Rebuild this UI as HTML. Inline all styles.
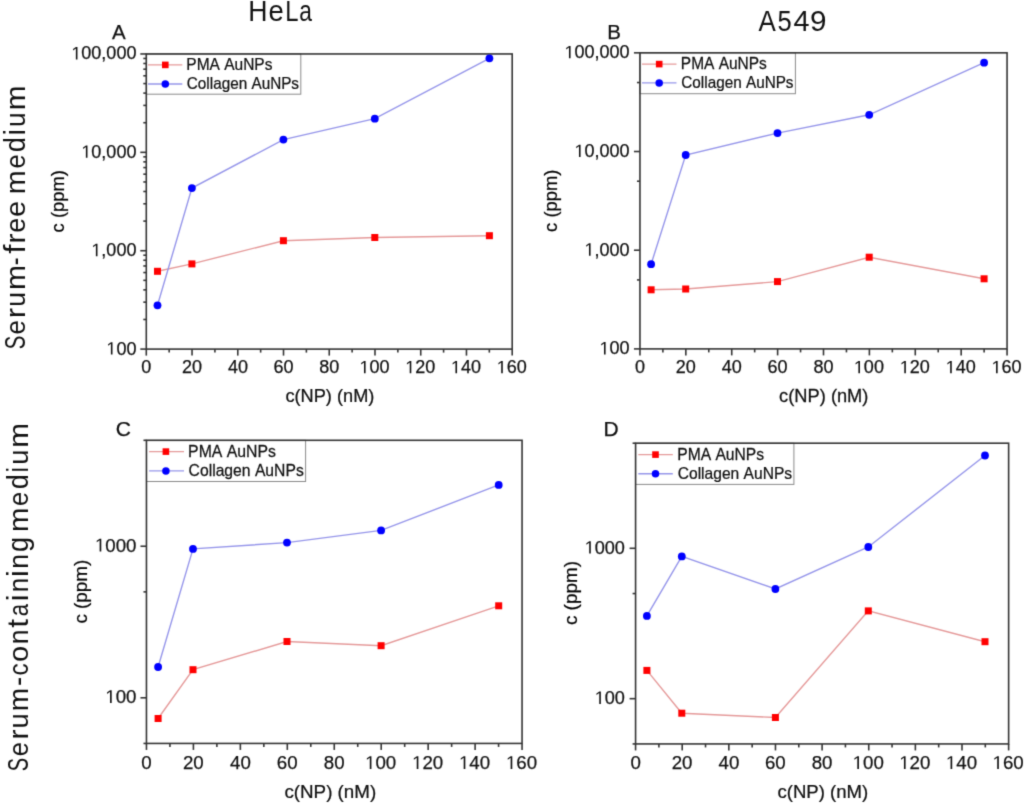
<!DOCTYPE html>
<html><head><meta charset="utf-8"><style>
html,body{margin:0;padding:0;background:#fff;}
svg{display:block;}
#w{will-change:transform;}
text{font-family:"Liberation Sans", sans-serif;font-kerning:none;stroke:#111;stroke-width:0.25px;}
text.big{stroke-width:0;}
</style></head><body><div id="w">
<svg width="1024" height="804" viewBox="0 0 1024 804">
<defs><filter id="bl" x="0" y="0" width="1024" height="804" filterUnits="userSpaceOnUse" color-interpolation-filters="sRGB"><feConvolveMatrix order="3" kernelMatrix="0.01917 0.10012 0.01917 0.10012 0.52283 0.10012 0.01917 0.10012 0.01917" edgeMode="duplicate"/></filter></defs><g filter="url(#bl)"><rect width="1024" height="804" fill="#fff"/>
<polyline points="157.50,271.30 191.90,263.90 283.40,240.70 374.80,237.50 489.40,235.70" fill="none" stroke="#e59a9a" stroke-width="1.4"/>
<polyline points="157.50,305.30 191.90,188.10 283.40,139.60 374.80,118.70 489.40,58.30" fill="none" stroke="#9696ea" stroke-width="1.4"/>
<rect x="146.30" y="53.96" width="154.50" height="40.24" fill="#fff" stroke="#8a8a8a" stroke-width="1"/>
<rect x="146.30" y="53.96" width="365.90" height="295.14" fill="none" stroke="#353535" stroke-width="1.6"/>
<line x1="146.30" y1="349.10" x2="146.30" y2="355.60" stroke="#353535" stroke-width="1.6"/>
<line x1="169.17" y1="349.10" x2="169.17" y2="352.60" stroke="#353535" stroke-width="1.6"/>
<line x1="192.04" y1="349.10" x2="192.04" y2="355.60" stroke="#353535" stroke-width="1.6"/>
<line x1="214.91" y1="349.10" x2="214.91" y2="352.60" stroke="#353535" stroke-width="1.6"/>
<line x1="237.78" y1="349.10" x2="237.78" y2="355.60" stroke="#353535" stroke-width="1.6"/>
<line x1="260.64" y1="349.10" x2="260.64" y2="352.60" stroke="#353535" stroke-width="1.6"/>
<line x1="283.51" y1="349.10" x2="283.51" y2="355.60" stroke="#353535" stroke-width="1.6"/>
<line x1="306.38" y1="349.10" x2="306.38" y2="352.60" stroke="#353535" stroke-width="1.6"/>
<line x1="329.25" y1="349.10" x2="329.25" y2="355.60" stroke="#353535" stroke-width="1.6"/>
<line x1="352.12" y1="349.10" x2="352.12" y2="352.60" stroke="#353535" stroke-width="1.6"/>
<line x1="374.99" y1="349.10" x2="374.99" y2="355.60" stroke="#353535" stroke-width="1.6"/>
<line x1="397.86" y1="349.10" x2="397.86" y2="352.60" stroke="#353535" stroke-width="1.6"/>
<line x1="420.73" y1="349.10" x2="420.73" y2="355.60" stroke="#353535" stroke-width="1.6"/>
<line x1="443.59" y1="349.10" x2="443.59" y2="352.60" stroke="#353535" stroke-width="1.6"/>
<line x1="466.46" y1="349.10" x2="466.46" y2="355.60" stroke="#353535" stroke-width="1.6"/>
<line x1="489.33" y1="349.10" x2="489.33" y2="352.60" stroke="#353535" stroke-width="1.6"/>
<line x1="512.20" y1="349.10" x2="512.20" y2="355.60" stroke="#353535" stroke-width="1.6"/>
<text transform="translate(141.29,373.30)" font-size="18" fill="#111">0</text>
<text transform="translate(181.93,373.30)" font-size="18" fill="#111">20</text>
<text transform="translate(227.91,373.30)" font-size="18" fill="#111">40</text>
<text transform="translate(273.40,373.30)" font-size="18" fill="#111">60</text>
<text transform="translate(319.20,373.30)" font-size="18" fill="#111">80</text>
<g transform="translate(359.46,373.30)" fill="#111"><text font-size="18"> 00</text><path transform="translate(0.000,0) scale(0.008789,-0.008789)" d="M515 0L515 1237L197 1010L197 1180L530 1409L696 1409L696 0Z"/></g>
<g transform="translate(405.19,373.30)" fill="#111"><text font-size="18"> 20</text><path transform="translate(0.000,0) scale(0.008789,-0.008789)" d="M515 0L515 1237L197 1010L197 1180L530 1409L696 1409L696 0Z"/></g>
<g transform="translate(450.93,373.30)" fill="#111"><text font-size="18"> 40</text><path transform="translate(0.000,0) scale(0.008789,-0.008789)" d="M515 0L515 1237L197 1010L197 1180L530 1409L696 1409L696 0Z"/></g>
<g transform="translate(496.67,373.30)" fill="#111"><text font-size="18"> 60</text><path transform="translate(0.000,0) scale(0.008789,-0.008789)" d="M515 0L515 1237L197 1010L197 1180L530 1409L696 1409L696 0Z"/></g>
<line x1="140.30" y1="349.10" x2="146.30" y2="349.10" stroke="#353535" stroke-width="1.6"/>
<line x1="140.30" y1="250.72" x2="146.30" y2="250.72" stroke="#353535" stroke-width="1.6"/>
<line x1="140.30" y1="152.34" x2="146.30" y2="152.34" stroke="#353535" stroke-width="1.6"/>
<line x1="140.30" y1="53.96" x2="146.30" y2="53.96" stroke="#353535" stroke-width="1.6"/>
<line x1="143.30" y1="319.48" x2="146.30" y2="319.48" stroke="#353535" stroke-width="1.6"/>
<line x1="143.30" y1="302.16" x2="146.30" y2="302.16" stroke="#353535" stroke-width="1.6"/>
<line x1="143.30" y1="289.87" x2="146.30" y2="289.87" stroke="#353535" stroke-width="1.6"/>
<line x1="143.30" y1="280.34" x2="146.30" y2="280.34" stroke="#353535" stroke-width="1.6"/>
<line x1="143.30" y1="272.55" x2="146.30" y2="272.55" stroke="#353535" stroke-width="1.6"/>
<line x1="143.30" y1="265.96" x2="146.30" y2="265.96" stroke="#353535" stroke-width="1.6"/>
<line x1="143.30" y1="260.25" x2="146.30" y2="260.25" stroke="#353535" stroke-width="1.6"/>
<line x1="143.30" y1="255.22" x2="146.30" y2="255.22" stroke="#353535" stroke-width="1.6"/>
<line x1="143.30" y1="221.10" x2="146.30" y2="221.10" stroke="#353535" stroke-width="1.6"/>
<line x1="143.30" y1="203.78" x2="146.30" y2="203.78" stroke="#353535" stroke-width="1.6"/>
<line x1="143.30" y1="191.49" x2="146.30" y2="191.49" stroke="#353535" stroke-width="1.6"/>
<line x1="143.30" y1="181.96" x2="146.30" y2="181.96" stroke="#353535" stroke-width="1.6"/>
<line x1="143.30" y1="174.17" x2="146.30" y2="174.17" stroke="#353535" stroke-width="1.6"/>
<line x1="143.30" y1="167.58" x2="146.30" y2="167.58" stroke="#353535" stroke-width="1.6"/>
<line x1="143.30" y1="161.87" x2="146.30" y2="161.87" stroke="#353535" stroke-width="1.6"/>
<line x1="143.30" y1="156.84" x2="146.30" y2="156.84" stroke="#353535" stroke-width="1.6"/>
<line x1="143.30" y1="122.72" x2="146.30" y2="122.72" stroke="#353535" stroke-width="1.6"/>
<line x1="143.30" y1="105.40" x2="146.30" y2="105.40" stroke="#353535" stroke-width="1.6"/>
<line x1="143.30" y1="93.11" x2="146.30" y2="93.11" stroke="#353535" stroke-width="1.6"/>
<line x1="143.30" y1="83.58" x2="146.30" y2="83.58" stroke="#353535" stroke-width="1.6"/>
<line x1="143.30" y1="75.79" x2="146.30" y2="75.79" stroke="#353535" stroke-width="1.6"/>
<line x1="143.30" y1="69.20" x2="146.30" y2="69.20" stroke="#353535" stroke-width="1.6"/>
<line x1="143.30" y1="63.49" x2="146.30" y2="63.49" stroke="#353535" stroke-width="1.6"/>
<line x1="143.30" y1="58.46" x2="146.30" y2="58.46" stroke="#353535" stroke-width="1.6"/>
<g transform="translate(106.37,354.60)" fill="#111"><text font-size="18"> 00</text><path transform="translate(0.000,0) scale(0.008789,-0.008789)" d="M515 0L515 1237L197 1010L197 1180L530 1409L696 1409L696 0Z"/></g>
<g transform="translate(91.36,256.22)" fill="#111"><text font-size="18"> ,000</text><path transform="translate(0.000,0) scale(0.008789,-0.008789)" d="M515 0L515 1237L197 1010L197 1180L530 1409L696 1409L696 0Z"/></g>
<g transform="translate(81.35,157.84)" fill="#111"><text font-size="18"> 0,000</text><path transform="translate(0.000,0) scale(0.008789,-0.008789)" d="M515 0L515 1237L197 1010L197 1180L530 1409L696 1409L696 0Z"/></g>
<g transform="translate(71.34,59.46)" fill="#111"><text font-size="18"> 00,000</text><path transform="translate(0.000,0) scale(0.008789,-0.008789)" d="M515 0L515 1237L197 1010L197 1180L530 1409L696 1409L696 0Z"/></g>
<line x1="148.00" y1="64.90" x2="182.30" y2="64.90" stroke="#e59a9a" stroke-width="1.4"/>
<line x1="148.00" y1="84.00" x2="182.30" y2="84.00" stroke="#9696ea" stroke-width="1.4"/>
<rect x="162.00" y="61.60" width="6.6" height="6.6" fill="#ff0000"/>
<circle cx="165.30" cy="84.00" r="3.75" fill="#0000ff"/>
<text transform="translate(186.33,69.80) scale(0.9687,1)" font-size="16" fill="#111">PMA AuNPs</text>
<text transform="translate(186.82,89.20) scale(0.9568,1)" font-size="16" fill="#111">Collagen AuNPs</text>
<rect x="154.00" y="267.80" width="7.0" height="7.0" fill="#ff0000"/>
<rect x="188.40" y="260.40" width="7.0" height="7.0" fill="#ff0000"/>
<rect x="279.90" y="237.20" width="7.0" height="7.0" fill="#ff0000"/>
<rect x="371.30" y="234.00" width="7.0" height="7.0" fill="#ff0000"/>
<rect x="485.90" y="232.20" width="7.0" height="7.0" fill="#ff0000"/>
<circle cx="157.50" cy="305.30" r="3.9" fill="#0000ff"/>
<circle cx="191.90" cy="188.10" r="3.9" fill="#0000ff"/>
<circle cx="283.40" cy="139.60" r="3.9" fill="#0000ff"/>
<circle cx="374.80" cy="118.70" r="3.9" fill="#0000ff"/>
<circle cx="489.40" cy="58.30" r="3.9" fill="#0000ff"/>
<text transform="translate(285.43,402.40) scale(1.0115,1)" font-size="18" fill="#111">c(NP) (nM)</text>
<text transform="translate(64.40,232.38) rotate(-90) scale(1.0199,1)" font-size="18" fill="#000">c (ppm)</text>
<text transform="translate(112.06,39.10)" font-size="20.5" fill="#111">A</text>
<polyline points="651.10,289.80 685.70,289.00 777.50,281.60 869.20,257.20 984.10,278.80" fill="none" stroke="#e59a9a" stroke-width="1.4"/>
<polyline points="651.10,264.20 685.70,155.00 777.50,133.10 869.20,114.80 984.10,62.70" fill="none" stroke="#9696ea" stroke-width="1.4"/>
<rect x="639.95" y="52.83" width="155.45" height="40.87" fill="#fff" stroke="#8a8a8a" stroke-width="1"/>
<rect x="639.95" y="52.83" width="367.11" height="296.07" fill="none" stroke="#353535" stroke-width="1.6"/>
<line x1="639.95" y1="348.90" x2="639.95" y2="355.40" stroke="#353535" stroke-width="1.6"/>
<line x1="662.89" y1="348.90" x2="662.89" y2="352.40" stroke="#353535" stroke-width="1.6"/>
<line x1="685.84" y1="348.90" x2="685.84" y2="355.40" stroke="#353535" stroke-width="1.6"/>
<line x1="708.78" y1="348.90" x2="708.78" y2="352.40" stroke="#353535" stroke-width="1.6"/>
<line x1="731.73" y1="348.90" x2="731.73" y2="355.40" stroke="#353535" stroke-width="1.6"/>
<line x1="754.67" y1="348.90" x2="754.67" y2="352.40" stroke="#353535" stroke-width="1.6"/>
<line x1="777.62" y1="348.90" x2="777.62" y2="355.40" stroke="#353535" stroke-width="1.6"/>
<line x1="800.56" y1="348.90" x2="800.56" y2="352.40" stroke="#353535" stroke-width="1.6"/>
<line x1="823.50" y1="348.90" x2="823.50" y2="355.40" stroke="#353535" stroke-width="1.6"/>
<line x1="846.45" y1="348.90" x2="846.45" y2="352.40" stroke="#353535" stroke-width="1.6"/>
<line x1="869.39" y1="348.90" x2="869.39" y2="355.40" stroke="#353535" stroke-width="1.6"/>
<line x1="892.34" y1="348.90" x2="892.34" y2="352.40" stroke="#353535" stroke-width="1.6"/>
<line x1="915.28" y1="348.90" x2="915.28" y2="355.40" stroke="#353535" stroke-width="1.6"/>
<line x1="938.23" y1="348.90" x2="938.23" y2="352.40" stroke="#353535" stroke-width="1.6"/>
<line x1="961.17" y1="348.90" x2="961.17" y2="355.40" stroke="#353535" stroke-width="1.6"/>
<line x1="984.12" y1="348.90" x2="984.12" y2="352.40" stroke="#353535" stroke-width="1.6"/>
<line x1="1007.06" y1="348.90" x2="1007.06" y2="355.40" stroke="#353535" stroke-width="1.6"/>
<text transform="translate(634.94,373.30)" font-size="18" fill="#111">0</text>
<text transform="translate(675.73,373.30)" font-size="18" fill="#111">20</text>
<text transform="translate(721.86,373.30)" font-size="18" fill="#111">40</text>
<text transform="translate(767.50,373.30)" font-size="18" fill="#111">60</text>
<text transform="translate(813.45,373.30)" font-size="18" fill="#111">80</text>
<g transform="translate(853.86,373.30)" fill="#111"><text font-size="18"> 00</text><path transform="translate(0.000,0) scale(0.008789,-0.008789)" d="M515 0L515 1237L197 1010L197 1180L530 1409L696 1409L696 0Z"/></g>
<g transform="translate(899.75,373.30)" fill="#111"><text font-size="18"> 20</text><path transform="translate(0.000,0) scale(0.008789,-0.008789)" d="M515 0L515 1237L197 1010L197 1180L530 1409L696 1409L696 0Z"/></g>
<g transform="translate(945.64,373.30)" fill="#111"><text font-size="18"> 40</text><path transform="translate(0.000,0) scale(0.008789,-0.008789)" d="M515 0L515 1237L197 1010L197 1180L530 1409L696 1409L696 0Z"/></g>
<g transform="translate(991.53,373.30)" fill="#111"><text font-size="18"> 60</text><path transform="translate(0.000,0) scale(0.008789,-0.008789)" d="M515 0L515 1237L197 1010L197 1180L530 1409L696 1409L696 0Z"/></g>
<line x1="633.95" y1="348.90" x2="639.95" y2="348.90" stroke="#353535" stroke-width="1.6"/>
<line x1="633.95" y1="250.21" x2="639.95" y2="250.21" stroke="#353535" stroke-width="1.6"/>
<line x1="633.95" y1="151.52" x2="639.95" y2="151.52" stroke="#353535" stroke-width="1.6"/>
<line x1="633.95" y1="52.83" x2="639.95" y2="52.83" stroke="#353535" stroke-width="1.6"/>
<line x1="636.95" y1="279.92" x2="639.95" y2="279.92" stroke="#353535" stroke-width="1.6"/>
<line x1="636.95" y1="181.23" x2="639.95" y2="181.23" stroke="#353535" stroke-width="1.6"/>
<line x1="636.95" y1="82.54" x2="639.95" y2="82.54" stroke="#353535" stroke-width="1.6"/>
<g transform="translate(599.47,354.40)" fill="#111"><text font-size="18"> 00</text><path transform="translate(0.000,0) scale(0.008789,-0.008789)" d="M515 0L515 1237L197 1010L197 1180L530 1409L696 1409L696 0Z"/></g>
<g transform="translate(584.46,255.71)" fill="#111"><text font-size="18"> ,000</text><path transform="translate(0.000,0) scale(0.008789,-0.008789)" d="M515 0L515 1237L197 1010L197 1180L530 1409L696 1409L696 0Z"/></g>
<g transform="translate(574.45,157.02)" fill="#111"><text font-size="18"> 0,000</text><path transform="translate(0.000,0) scale(0.008789,-0.008789)" d="M515 0L515 1237L197 1010L197 1180L530 1409L696 1409L696 0Z"/></g>
<g transform="translate(564.44,58.33)" fill="#111"><text font-size="18"> 00,000</text><path transform="translate(0.000,0) scale(0.008789,-0.008789)" d="M515 0L515 1237L197 1010L197 1180L530 1409L696 1409L696 0Z"/></g>
<line x1="642.00" y1="64.10" x2="676.50" y2="64.10" stroke="#e59a9a" stroke-width="1.4"/>
<line x1="642.00" y1="82.90" x2="676.50" y2="82.90" stroke="#9696ea" stroke-width="1.4"/>
<rect x="655.90" y="60.80" width="6.6" height="6.6" fill="#ff0000"/>
<circle cx="659.20" cy="82.90" r="3.75" fill="#0000ff"/>
<text transform="translate(680.83,68.90) scale(0.9676,1)" font-size="16" fill="#111">PMA AuNPs</text>
<text transform="translate(681.32,87.70) scale(0.9568,1)" font-size="16" fill="#111">Collagen AuNPs</text>
<rect x="647.60" y="286.30" width="7.0" height="7.0" fill="#ff0000"/>
<rect x="682.20" y="285.50" width="7.0" height="7.0" fill="#ff0000"/>
<rect x="774.00" y="278.10" width="7.0" height="7.0" fill="#ff0000"/>
<rect x="865.70" y="253.70" width="7.0" height="7.0" fill="#ff0000"/>
<rect x="980.60" y="275.30" width="7.0" height="7.0" fill="#ff0000"/>
<circle cx="651.10" cy="264.20" r="3.9" fill="#0000ff"/>
<circle cx="685.70" cy="155.00" r="3.9" fill="#0000ff"/>
<circle cx="777.50" cy="133.10" r="3.9" fill="#0000ff"/>
<circle cx="869.20" cy="114.80" r="3.9" fill="#0000ff"/>
<circle cx="984.10" cy="62.70" r="3.9" fill="#0000ff"/>
<text transform="translate(779.12,402.40) scale(1.0162,1)" font-size="18" fill="#111">c(NP) (nM)</text>
<text transform="translate(557.00,231.88) rotate(-90) scale(1.0199,1)" font-size="18" fill="#000">c (ppm)</text>
<text transform="translate(607.22,39.30)" font-size="20.5" fill="#111">B</text>
<polyline points="158.10,718.50 193.00,669.70 287.00,641.50 381.10,645.70 498.70,605.80" fill="none" stroke="#e59a9a" stroke-width="1.4"/>
<polyline points="158.10,667.00 193.00,548.90 287.00,542.60 381.10,530.40 498.70,484.90" fill="none" stroke="#9696ea" stroke-width="1.4"/>
<rect x="146.46" y="440.30" width="159.14" height="41.20" fill="#fff" stroke="#8a8a8a" stroke-width="1"/>
<rect x="146.46" y="440.30" width="375.60" height="303.13" fill="none" stroke="#353535" stroke-width="1.6"/>
<line x1="146.46" y1="743.43" x2="146.46" y2="749.93" stroke="#353535" stroke-width="1.6"/>
<line x1="169.94" y1="743.43" x2="169.94" y2="746.93" stroke="#353535" stroke-width="1.6"/>
<line x1="193.41" y1="743.43" x2="193.41" y2="749.93" stroke="#353535" stroke-width="1.6"/>
<line x1="216.88" y1="743.43" x2="216.88" y2="746.93" stroke="#353535" stroke-width="1.6"/>
<line x1="240.36" y1="743.43" x2="240.36" y2="749.93" stroke="#353535" stroke-width="1.6"/>
<line x1="263.83" y1="743.43" x2="263.83" y2="746.93" stroke="#353535" stroke-width="1.6"/>
<line x1="287.31" y1="743.43" x2="287.31" y2="749.93" stroke="#353535" stroke-width="1.6"/>
<line x1="310.78" y1="743.43" x2="310.78" y2="746.93" stroke="#353535" stroke-width="1.6"/>
<line x1="334.26" y1="743.43" x2="334.26" y2="749.93" stroke="#353535" stroke-width="1.6"/>
<line x1="357.73" y1="743.43" x2="357.73" y2="746.93" stroke="#353535" stroke-width="1.6"/>
<line x1="381.21" y1="743.43" x2="381.21" y2="749.93" stroke="#353535" stroke-width="1.6"/>
<line x1="404.68" y1="743.43" x2="404.68" y2="746.93" stroke="#353535" stroke-width="1.6"/>
<line x1="428.16" y1="743.43" x2="428.16" y2="749.93" stroke="#353535" stroke-width="1.6"/>
<line x1="451.63" y1="743.43" x2="451.63" y2="746.93" stroke="#353535" stroke-width="1.6"/>
<line x1="475.11" y1="743.43" x2="475.11" y2="749.93" stroke="#353535" stroke-width="1.6"/>
<line x1="498.58" y1="743.43" x2="498.58" y2="746.93" stroke="#353535" stroke-width="1.6"/>
<line x1="522.06" y1="743.43" x2="522.06" y2="749.93" stroke="#353535" stroke-width="1.6"/>
<text transform="translate(141.26,769.00)" font-size="18.7" fill="#111">0</text>
<text transform="translate(182.90,769.00)" font-size="18.7" fill="#111">20</text>
<text transform="translate(230.11,769.00)" font-size="18.7" fill="#111">40</text>
<text transform="translate(276.80,769.00)" font-size="18.7" fill="#111">60</text>
<text transform="translate(323.82,769.00)" font-size="18.7" fill="#111">80</text>
<g transform="translate(365.08,769.00)" fill="#111"><text font-size="18.7"> 00</text><path transform="translate(0.000,0) scale(0.009131,-0.009131)" d="M515 0L515 1237L197 1010L197 1180L530 1409L696 1409L696 0Z"/></g>
<g transform="translate(412.03,769.00)" fill="#111"><text font-size="18.7"> 20</text><path transform="translate(0.000,0) scale(0.009131,-0.009131)" d="M515 0L515 1237L197 1010L197 1180L530 1409L696 1409L696 0Z"/></g>
<g transform="translate(458.98,769.00)" fill="#111"><text font-size="18.7"> 40</text><path transform="translate(0.000,0) scale(0.009131,-0.009131)" d="M515 0L515 1237L197 1010L197 1180L530 1409L696 1409L696 0Z"/></g>
<g transform="translate(505.93,769.00)" fill="#111"><text font-size="18.7"> 60</text><path transform="translate(0.000,0) scale(0.009131,-0.009131)" d="M515 0L515 1237L197 1010L197 1180L530 1409L696 1409L696 0Z"/></g>
<line x1="140.46" y1="697.80" x2="146.46" y2="697.80" stroke="#353535" stroke-width="1.6"/>
<line x1="140.46" y1="546.24" x2="146.46" y2="546.24" stroke="#353535" stroke-width="1.6"/>
<line x1="143.46" y1="743.43" x2="146.46" y2="743.43" stroke="#353535" stroke-width="1.6"/>
<line x1="143.46" y1="591.87" x2="146.46" y2="591.87" stroke="#353535" stroke-width="1.6"/>
<line x1="143.46" y1="440.30" x2="146.46" y2="440.30" stroke="#353535" stroke-width="1.6"/>
<g transform="translate(105.33,703.10)" fill="#111"><text font-size="18.7"> 00</text><path transform="translate(0.000,0) scale(0.009131,-0.009131)" d="M515 0L515 1237L197 1010L197 1180L530 1409L696 1409L696 0Z"/></g>
<g transform="translate(94.93,551.54)" fill="#111"><text font-size="18.7"> 000</text><path transform="translate(0.000,0) scale(0.009131,-0.009131)" d="M515 0L515 1237L197 1010L197 1180L530 1409L696 1409L696 0Z"/></g>
<line x1="149.10" y1="451.60" x2="184.00" y2="451.60" stroke="#e59a9a" stroke-width="1.4"/>
<line x1="149.10" y1="470.90" x2="184.00" y2="470.90" stroke="#9696ea" stroke-width="1.4"/>
<rect x="162.60" y="448.30" width="6.6" height="6.6" fill="#ff0000"/>
<circle cx="165.90" cy="470.90" r="3.75" fill="#0000ff"/>
<text transform="translate(188.10,456.60) scale(0.9772,1)" font-size="16.2" fill="#111">PMA AuNPs</text>
<text transform="translate(188.60,475.90) scale(0.9697,1)" font-size="16.2" fill="#111">Collagen AuNPs</text>
<rect x="154.60" y="715.00" width="7.0" height="7.0" fill="#ff0000"/>
<rect x="189.50" y="666.20" width="7.0" height="7.0" fill="#ff0000"/>
<rect x="283.50" y="638.00" width="7.0" height="7.0" fill="#ff0000"/>
<rect x="377.60" y="642.20" width="7.0" height="7.0" fill="#ff0000"/>
<rect x="495.20" y="602.30" width="7.0" height="7.0" fill="#ff0000"/>
<circle cx="158.10" cy="667.00" r="3.9" fill="#0000ff"/>
<circle cx="193.00" cy="548.90" r="3.9" fill="#0000ff"/>
<circle cx="287.00" cy="542.60" r="3.9" fill="#0000ff"/>
<circle cx="381.10" cy="530.40" r="3.9" fill="#0000ff"/>
<circle cx="498.70" cy="484.90" r="3.9" fill="#0000ff"/>
<text transform="translate(284.40,798.40) scale(1.0050,1)" font-size="18.7" fill="#111">c(NP) (nM)</text>
<text transform="translate(86.90,623.60) rotate(-90) scale(1.0078,1)" font-size="18.7" fill="#000">c (ppm)</text>
<text transform="translate(115.73,436.10)" font-size="21" fill="#111">C</text>
<polyline points="646.90,670.40 681.80,713.20 775.40,717.50 868.30,610.90 985.00,641.70" fill="none" stroke="#e59a9a" stroke-width="1.4"/>
<polyline points="646.90,615.90 681.80,556.40 775.40,589.00 868.30,547.00 985.00,455.50" fill="none" stroke="#9696ea" stroke-width="1.4"/>
<rect x="635.58" y="443.20" width="158.32" height="41.20" fill="#fff" stroke="#8a8a8a" stroke-width="1"/>
<rect x="635.58" y="443.20" width="373.05" height="300.73" fill="none" stroke="#353535" stroke-width="1.6"/>
<line x1="635.58" y1="743.93" x2="635.58" y2="750.43" stroke="#353535" stroke-width="1.6"/>
<line x1="658.90" y1="743.93" x2="658.90" y2="747.43" stroke="#353535" stroke-width="1.6"/>
<line x1="682.21" y1="743.93" x2="682.21" y2="750.43" stroke="#353535" stroke-width="1.6"/>
<line x1="705.53" y1="743.93" x2="705.53" y2="747.43" stroke="#353535" stroke-width="1.6"/>
<line x1="728.84" y1="743.93" x2="728.84" y2="750.43" stroke="#353535" stroke-width="1.6"/>
<line x1="752.16" y1="743.93" x2="752.16" y2="747.43" stroke="#353535" stroke-width="1.6"/>
<line x1="775.47" y1="743.93" x2="775.47" y2="750.43" stroke="#353535" stroke-width="1.6"/>
<line x1="798.79" y1="743.93" x2="798.79" y2="747.43" stroke="#353535" stroke-width="1.6"/>
<line x1="822.11" y1="743.93" x2="822.11" y2="750.43" stroke="#353535" stroke-width="1.6"/>
<line x1="845.42" y1="743.93" x2="845.42" y2="747.43" stroke="#353535" stroke-width="1.6"/>
<line x1="868.74" y1="743.93" x2="868.74" y2="750.43" stroke="#353535" stroke-width="1.6"/>
<line x1="892.05" y1="743.93" x2="892.05" y2="747.43" stroke="#353535" stroke-width="1.6"/>
<line x1="915.37" y1="743.93" x2="915.37" y2="750.43" stroke="#353535" stroke-width="1.6"/>
<line x1="938.68" y1="743.93" x2="938.68" y2="747.43" stroke="#353535" stroke-width="1.6"/>
<line x1="962.00" y1="743.93" x2="962.00" y2="750.43" stroke="#353535" stroke-width="1.6"/>
<line x1="985.31" y1="743.93" x2="985.31" y2="747.43" stroke="#353535" stroke-width="1.6"/>
<line x1="1008.63" y1="743.93" x2="1008.63" y2="750.43" stroke="#353535" stroke-width="1.6"/>
<text transform="translate(630.38,769.00)" font-size="18.7" fill="#111">0</text>
<text transform="translate(671.71,769.00)" font-size="18.7" fill="#111">20</text>
<text transform="translate(718.59,769.00)" font-size="18.7" fill="#111">40</text>
<text transform="translate(764.96,769.00)" font-size="18.7" fill="#111">60</text>
<text transform="translate(811.66,769.00)" font-size="18.7" fill="#111">80</text>
<g transform="translate(852.60,769.00)" fill="#111"><text font-size="18.7"> 00</text><path transform="translate(0.000,0) scale(0.009131,-0.009131)" d="M515 0L515 1237L197 1010L197 1180L530 1409L696 1409L696 0Z"/></g>
<g transform="translate(899.23,769.00)" fill="#111"><text font-size="18.7"> 20</text><path transform="translate(0.000,0) scale(0.009131,-0.009131)" d="M515 0L515 1237L197 1010L197 1180L530 1409L696 1409L696 0Z"/></g>
<g transform="translate(945.86,769.00)" fill="#111"><text font-size="18.7"> 40</text><path transform="translate(0.000,0) scale(0.009131,-0.009131)" d="M515 0L515 1237L197 1010L197 1180L530 1409L696 1409L696 0Z"/></g>
<g transform="translate(992.50,769.00)" fill="#111"><text font-size="18.7"> 60</text><path transform="translate(0.000,0) scale(0.009131,-0.009131)" d="M515 0L515 1237L197 1010L197 1180L530 1409L696 1409L696 0Z"/></g>
<line x1="629.58" y1="698.67" x2="635.58" y2="698.67" stroke="#353535" stroke-width="1.6"/>
<line x1="629.58" y1="548.30" x2="635.58" y2="548.30" stroke="#353535" stroke-width="1.6"/>
<line x1="632.58" y1="743.93" x2="635.58" y2="743.93" stroke="#353535" stroke-width="1.6"/>
<line x1="632.58" y1="593.56" x2="635.58" y2="593.56" stroke="#353535" stroke-width="1.6"/>
<line x1="632.58" y1="443.20" x2="635.58" y2="443.20" stroke="#353535" stroke-width="1.6"/>
<g transform="translate(594.71,703.97)" fill="#111"><text font-size="18.1"> 00</text><path transform="translate(0.000,0) scale(0.008838,-0.008838)" d="M515 0L515 1237L197 1010L197 1180L530 1409L696 1409L696 0Z"/></g>
<g transform="translate(584.64,553.60)" fill="#111"><text font-size="18.1"> 000</text><path transform="translate(0.000,0) scale(0.008838,-0.008838)" d="M515 0L515 1237L197 1010L197 1180L530 1409L696 1409L696 0Z"/></g>
<line x1="638.30" y1="454.60" x2="672.80" y2="454.60" stroke="#e59a9a" stroke-width="1.4"/>
<line x1="638.30" y1="473.70" x2="672.80" y2="473.70" stroke="#9696ea" stroke-width="1.4"/>
<rect x="652.20" y="451.30" width="6.6" height="6.6" fill="#ff0000"/>
<circle cx="655.50" cy="473.70" r="3.75" fill="#0000ff"/>
<text transform="translate(677.22,459.50) scale(0.9658,1)" font-size="16.2" fill="#111">PMA AuNPs</text>
<text transform="translate(677.71,478.70) scale(0.9629,1)" font-size="16.2" fill="#111">Collagen AuNPs</text>
<rect x="643.40" y="666.90" width="7.0" height="7.0" fill="#ff0000"/>
<rect x="678.30" y="709.70" width="7.0" height="7.0" fill="#ff0000"/>
<rect x="771.90" y="714.00" width="7.0" height="7.0" fill="#ff0000"/>
<rect x="864.80" y="607.40" width="7.0" height="7.0" fill="#ff0000"/>
<rect x="981.50" y="638.20" width="7.0" height="7.0" fill="#ff0000"/>
<circle cx="646.90" cy="615.90" r="3.9" fill="#0000ff"/>
<circle cx="681.80" cy="556.40" r="3.9" fill="#0000ff"/>
<circle cx="775.40" cy="589.00" r="3.9" fill="#0000ff"/>
<circle cx="868.30" cy="547.00" r="3.9" fill="#0000ff"/>
<circle cx="985.00" cy="455.50" r="3.9" fill="#0000ff"/>
<text transform="translate(777.41,798.40) scale(0.9938,1)" font-size="18.7" fill="#111">c(NP) (nM)</text>
<text transform="translate(576.90,625.10) rotate(-90) scale(1.0126,1)" font-size="18.7" fill="#000">c (ppm)</text>
<text transform="translate(603.48,435.80)" font-size="21" fill="#111">D</text>
<text class="big" transform="translate(248.31,21.10) scale(0.8891,1)" font-size="30" fill="#111">H</text>
<text class="big" transform="translate(268.53,21.10) scale(0.9164,1)" font-size="30" fill="#111">e</text>
<text class="big" transform="translate(285.35,21.10) scale(0.7938,1)" font-size="30" fill="#111">L</text>
<text class="big" transform="translate(299.23,21.10) scale(0.7592,1)" font-size="30" fill="#111">a</text>
<text class="big" transform="translate(758.55,30.90) scale(0.8853,1)" font-size="29.3" fill="#111">A</text>
<text class="big" transform="translate(777.48,30.90) scale(0.8710,1)" font-size="29.3" fill="#111">5</text>
<text class="big" transform="translate(793.44,30.90) scale(0.9821,1)" font-size="29.3" fill="#111">4</text>
<text class="big" transform="translate(809.91,30.90) scale(1.0123,1)" font-size="29.3" fill="#111">9</text>
<text class="big" transform="translate(25.20,349.32) rotate(-90) scale(0.6889,1.0)" font-size="29.5" fill="#111">S</text>
<text class="big" transform="translate(25.20,334.40) rotate(-90) scale(0.8741,0.95)" font-size="29.5" fill="#111">e</text>
<text class="big" transform="translate(25.20,318.37) rotate(-90) scale(1.0576,0.95)" font-size="29.5" fill="#111">r</text>
<text class="big" transform="translate(25.20,306.63) rotate(-90) scale(0.9017,0.95)" font-size="29.5" fill="#111">u</text>
<text class="big" transform="translate(25.20,290.09) rotate(-90) scale(1.0160,0.95)" font-size="29.5" fill="#111">m</text>
<text class="big" transform="translate(25.20,265.34) rotate(-90) scale(0.7914,1.0)" font-size="29.5" fill="#111">-</text>
<text class="big" transform="translate(25.20,253.70) rotate(-90) scale(1.1200,1.0)" font-size="29.5" fill="#111">f</text>
<text class="big" transform="translate(25.20,243.39) rotate(-90) scale(1.0169,0.95)" font-size="29.5" fill="#111">r</text>
<text class="big" transform="translate(25.20,232.74) rotate(-90) scale(0.9102,0.95)" font-size="29.5" fill="#111">e</text>
<text class="big" transform="translate(25.20,217.03) rotate(-90) scale(0.9825,0.95)" font-size="29.5" fill="#111">e</text>
<text class="big" transform="translate(25.20,194.30) rotate(-90) scale(0.9724,0.95)" font-size="29.5" fill="#111">m</text>
<text class="big" transform="translate(25.20,168.48) rotate(-90) scale(0.8597,0.95)" font-size="29.5" fill="#111">e</text>
<text class="big" transform="translate(25.20,152.15) rotate(-90) scale(0.9272,1.0)" font-size="29.5" fill="#111">d</text>
<text class="big" transform="translate(25.20,135.38) rotate(-90) scale(1.0028,1.0)" font-size="29.5" fill="#111">i</text>
<text class="big" transform="translate(25.20,126.90) rotate(-90) scale(0.8858,0.95)" font-size="29.5" fill="#111">u</text>
<text class="big" transform="translate(25.20,110.37) rotate(-90) scale(1.0063,0.95)" font-size="29.5" fill="#111">m</text>
<text class="big" transform="translate(27.70,771.34) rotate(-90) scale(0.6800,1.0)" font-size="29.5" fill="#111">S</text>
<text class="big" transform="translate(27.70,756.18) rotate(-90) scale(0.8597,0.95)" font-size="29.5" fill="#111">e</text>
<text class="big" transform="translate(27.70,739.59) rotate(-90) scale(1.0169,0.95)" font-size="29.5" fill="#111">r</text>
<text class="big" transform="translate(27.70,728.47) rotate(-90) scale(0.9256,0.95)" font-size="29.5" fill="#111">u</text>
<text class="big" transform="translate(27.70,711.27) rotate(-90) scale(0.9531,0.95)" font-size="29.5" fill="#111">m</text>
<text class="big" transform="translate(27.70,686.02) rotate(-90) scale(0.9303,1.0)" font-size="29.5" fill="#111">-</text>
<text class="big" transform="translate(27.70,675.43) rotate(-90) scale(0.8255,0.95)" font-size="29.5" fill="#111">c</text>
<text class="big" transform="translate(27.70,662.02) rotate(-90) scale(0.9836,0.95)" font-size="29.5" fill="#111">o</text>
<text class="big" transform="translate(27.70,644.37) rotate(-90) scale(0.9017,0.95)" font-size="29.5" fill="#111">n</text>
<text class="big" transform="translate(27.70,627.78) rotate(-90) scale(1.0752,1.0)" font-size="29.5" fill="#111">t</text>
<text class="big" transform="translate(27.70,616.14) rotate(-90) scale(0.7523,0.95)" font-size="29.5" fill="#111">a</text>
<text class="big" transform="translate(27.70,601.41) rotate(-90) scale(1.1200,1.0)" font-size="29.5" fill="#111">i</text>
<text class="big" transform="translate(27.70,592.32) rotate(-90) scale(0.8778,0.95)" font-size="29.5" fill="#111">n</text>
<text class="big" transform="translate(27.70,576.95) rotate(-90) scale(1.0414,1.0)" font-size="29.5" fill="#111">i</text>
<text class="big" transform="translate(27.70,568.77) rotate(-90) scale(0.9017,0.95)" font-size="29.5" fill="#111">n</text>
<text class="big" transform="translate(27.70,552.04) rotate(-90) scale(0.9196,1.0)" font-size="29.5" fill="#111">g</text>
<text class="big" transform="translate(27.70,531.94) rotate(-90) scale(0.9918,0.95)" font-size="29.5" fill="#111">m</text>
<text class="big" transform="translate(27.70,506.08) rotate(-90) scale(0.8597,0.95)" font-size="29.5" fill="#111">e</text>
<text class="big" transform="translate(27.70,489.34) rotate(-90) scale(0.9196,1.0)" font-size="29.5" fill="#111">d</text>
<text class="big" transform="translate(27.70,472.57) rotate(-90) scale(0.8485,1.0)" font-size="29.5" fill="#111">i</text>
<text class="big" transform="translate(27.70,464.87) rotate(-90) scale(0.9256,0.95)" font-size="29.5" fill="#111">u</text>
<text class="big" transform="translate(27.70,447.87) rotate(-90) scale(1.0063,0.95)" font-size="29.5" fill="#111">m</text>
</g></svg></div>
</body></html>
